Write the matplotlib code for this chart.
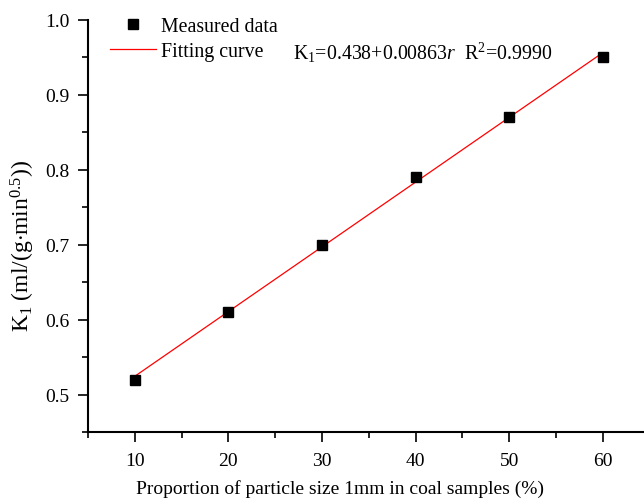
import matplotlib
matplotlib.use("Agg")
import matplotlib.pyplot as plt
import numpy as np
from matplotlib.ticker import MultipleLocator

plt.rcParams['font.family'] = ['Liberation Serif', 'DejaVu Serif']
plt.rcParams['mathtext.fontset'] = 'custom'
plt.rcParams['mathtext.rm'] = 'Liberation Serif'
plt.rcParams['mathtext.it'] = 'Liberation Serif:italic'

proportion = [10, 20, 30, 40, 50, 60]
k1_measured = [0.52, 0.61, 0.70, 0.79, 0.87, 0.95]
fit_intercept = 0.438
fit_slope = 0.00863

fig = plt.figure(figsize=(6.44, 5.02), dpi=100)
ax = fig.add_axes([88/644, (502-433)/502, (644-88)/644, (433-20.5)/502])

xf = np.array([proportion[0], proportion[-1]])
yf = fit_intercept + fit_slope * xf
ax.plot(xf, yf, color='red', lw=0.9, label='Fitting curve', zorder=2)
ax.plot(proportion, k1_measured, 's', color='black', ms=7, label='Measured data', zorder=3)

ax.set_xlim(5, 64.4)
ax.set_ylim(0.45, 1.0)
ax.xaxis.set_minor_locator(MultipleLocator(5))
ax.yaxis.set_minor_locator(MultipleLocator(0.05))
ax.set_xticks([10, 20, 30, 40, 50, 60])
ax.set_yticks([0.5, 0.6, 0.7, 0.8, 0.9, 1.0])
ax.set_yticklabels(['0.5', '0.6', '0.7', '0.8', '0.9', '1.0'])
ax.spines['top'].set_visible(False)
ax.spines['right'].set_visible(False)
for s in ['left', 'bottom']:
    ax.spines[s].set_linewidth(1.5)
ax.tick_params(which='major', direction='out', length=7.5, width=1.2, labelsize=14, pad=6)
ax.tick_params(axis='x', which='major', pad=7)
ax.tick_params(which='minor', direction='out', length=4.5, width=1.2)

ax.set_xlabel('Proportion of particle size 1mm in coal samples (%)', fontsize=14)
ax.xaxis.set_label_coords(0.453, -0.115)
ax.set_ylabel(r'K$_1$ (ml/(g$\cdot$min$^{0.5}$))', fontsize=17)
ax.yaxis.set_label_coords(-0.092, 0.453)

h, l = ax.get_legend_handles_labels()
ax.legend([h[1], h[0]], [l[1], l[0]], loc='upper left', bbox_to_anchor=(0.026, 1.025),
          frameon=False, fontsize=14.3, handlelength=2.3, handletextpad=0.25,
          labelspacing=0.3, borderaxespad=0)

ax.text(293, 502 - 53, r'K$_1$=0.438+0.00863$r$  R$^2$=0.9990', fontsize=14.3,
        transform=None, va='center', ha='left')

fig.savefig('out.png', dpi=100)
